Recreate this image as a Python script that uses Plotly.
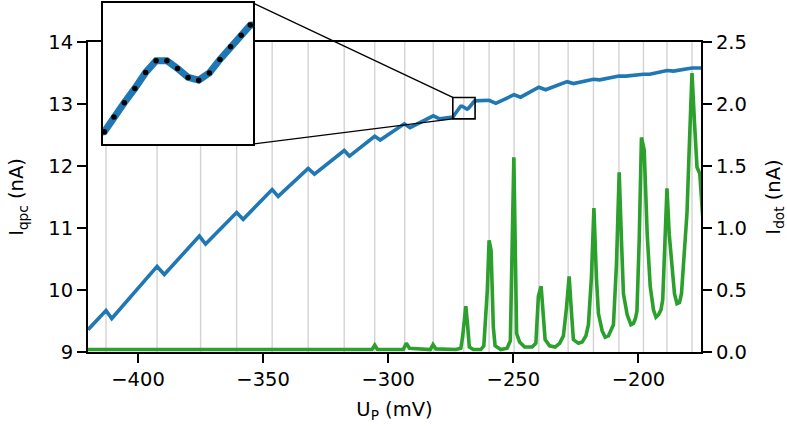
import plotly.graph_objects as go

# ---------------- data ----------------
grid_x = [-412.8, -392.4, -375.0, -360.6, -346.4, -332.0, -317.6, -305.4, -293.4,
          -282.0, -269.8, -259.7, -249.7, -239.8, -228.1, -218.0, -207.8, -198.0,
          -188.6, -178.6]

qpc_key_x = [-420.0, -412.8, -410.5, -392.4, -389.5, -375.5, -373.0, -360.6, -358.0,
             -346.4, -344.0, -332.0, -329.5, -317.6, -315.5, -305.4, -303.2, -293.6,
             -291.3, -282.0, -279.5,
             -259.7, -257.0, -249.7, -247.1, -239.8, -237.1, -228.5, -226.0, -218.0,
             -215.5, -207.8, -205.0, -198.0, -195.5, -188.6, -186.0, -178.6, -175.0]
qpc_key_y = [9.36, 9.67, 9.54, 10.38, 10.25, 10.87, 10.74, 11.25, 11.14,
             11.62, 11.51, 11.96, 11.87, 12.25, 12.16, 12.48, 12.42, 12.68,
             12.62, 12.81, 12.76,
             13.06, 13.01, 13.15, 13.11, 13.27, 13.23, 13.36, 13.33, 13.40,
             13.39, 13.45, 13.45, 13.48, 13.48, 13.54, 13.53, 13.58, 13.58]

inset_x = [-274.12, -273.55, -272.94, -272.31, -271.67, -271.05, -270.41, -269.78,
           -269.15, -268.52, -267.89, -267.26, -266.63, -266.00, -265.46]
inset_y = [12.790, 12.826, 12.861, 12.896, 12.935, 12.964, 12.964, 12.945,
           12.923, 12.916, 12.934, 12.967, 12.998, 13.026, 13.051]

dot_x = [-420.0, -306.5, -305.4, -304.3, -294.0, -292.8, -291.5, -283.2, -282.1, -281.0,
         -273.0, -271.0, -270.3, -269.0, -268.3, -267.6, -266.0,
         -263.0, -261.8, -260.4, -259.7, -258.9, -258.0, -257.3, -255.0,
         -252.5, -251.2, -249.8, -248.7, -247.5, -245.5, -242.5,
         -241.0, -240.0, -238.9, -238.3, -237.3, -235.5, -233.3, -231.5,
         -230.0, -228.8, -227.7, -226.7, -226.0, -224.0, -222.5, -221.0,
         -220.0, -218.8, -217.8, -216.8, -216.0, -214.5, -213.3, -212.0, -211.0,
         -210.0, -208.8, -207.7, -206.7, -206.0, -204.5, -203.0, -202.0, -201.2,
         -200.6, -199.7, -198.8, -197.7, -196.5, -195.3, -194.0, -193.0, -192.0, -191.0,
         -190.3, -189.4, -188.6, -187.7, -186.6, -185.6, -184.6, -183.6,
         -182.8, -181.7, -180.6, -179.6, -178.6, -177.6, -176.6, -175.5, -174.0]
dot_y = [0.02, 0.02, 0.055, 0.02, 0.02, 0.07, 0.03, 0.02, 0.06, 0.025,
         0.02, 0.03, 0.12, 0.37, 0.22, 0.04, 0.02,
         0.02, 0.05, 0.50, 0.90, 0.82, 0.20, 0.05, 0.02,
         0.03, 0.09, 1.57, 0.15, 0.08, 0.04, 0.04,
         0.07, 0.45, 0.53, 0.35, 0.10, 0.05, 0.04, 0.07,
         0.13, 0.35, 0.61, 0.30, 0.10, 0.07, 0.08, 0.13,
         0.22, 0.60, 1.16, 0.60, 0.31, 0.17, 0.12, 0.13, 0.17,
         0.22, 0.70, 1.45, 0.85, 0.47, 0.30, 0.22, 0.23, 0.27,
         0.33, 0.90, 1.73, 1.63, 0.95, 0.53, 0.34, 0.28, 0.30, 0.34,
         0.42, 0.85, 1.32, 0.95, 0.69, 0.47, 0.39, 0.40,
         0.47, 0.80, 1.12, 1.70, 2.25, 1.85, 1.49, 1.44, 1.00]

x_range = [-420, -175]
qpc_range = [9, 14]
dot_range = [0, 2.5]
inset_xr = [-274.2, -265.3]
inset_yr = [12.76, 13.105]

x_ticks = [-400, -350, -300, -250, -200]
qpc_ticks = [9, 10, 11, 12, 13, 14]
dot_ticks = [0.0, 0.5, 1.0, 1.5, 2.0, 2.5]

# merge main keypoints with the inset samples
pairs = sorted(list(zip(qpc_key_x, qpc_key_y)) + list(zip(inset_x, inset_y)))
qpc_x = [p[0] for p in pairs]
qpc_y = [p[1] for p in pairs]

# ---------------- layout geometry ----------------
W, H = 787, 426
ML, MR, MT, MB = 88, 86, 3, 74
plot_h = H - MT - MB
main_ydom = [0, (H - MB - 42) / plot_h]
inset_xdom = [(103 - ML) / (W - ML - MR), (253 - ML) / (W - ML - MR)]
inset_ydom = [(H - MB - 144) / plot_h, 1.0]

BLUE = "#1f77b4"
GREEN = "#2ca02c"
FONT = "DejaVu Sans"
FS = 19.5

fig = go.Figure()
fig.add_trace(go.Scatter(x=qpc_x, y=qpc_y, mode="lines", line=dict(color=BLUE, width=3.6),
                         xaxis="x", yaxis="y", showlegend=False))
fig.add_trace(go.Scatter(x=dot_x, y=dot_y, mode="lines", line=dict(color=GREEN, width=3.6),
                         xaxis="x", yaxis="y2", showlegend=False))
# inset
fig.add_trace(go.Scatter(x=qpc_x, y=qpc_y, mode="lines", line=dict(color=BLUE, width=7),
                         xaxis="x2", yaxis="y3", showlegend=False))
fig.add_trace(go.Scatter(x=inset_x, y=inset_y, mode="markers",
                         marker=dict(color="black", size=5.5),
                         xaxis="x2", yaxis="y3", showlegend=False))

shapes = []
for gx in grid_x:
    shapes.append(dict(type="line", xref="x", yref="y domain", x0=gx, x1=gx, y0=0, y1=1,
                       line=dict(color="#d3d3d3", width=1.4), layer="below"))
shapes.append(dict(type="rect", xref="x", yref="y", x0=inset_xr[0], x1=inset_xr[1],
                   y0=inset_yr[0], y1=inset_yr[1], line=dict(color="black", width=1.6),
                   layer="above"))


def to_paper(xv, yv):
    px = (xv - x_range[0]) / (x_range[1] - x_range[0])
    py = main_ydom[0] + (yv - qpc_range[0]) / (qpc_range[1] - qpc_range[0]) * (main_ydom[1] - main_ydom[0])
    return px, py


bx0, by1 = to_paper(inset_xr[0], inset_yr[1])
bx0b, by0 = to_paper(inset_xr[0], inset_yr[0])
shapes.append(dict(type="line", xref="paper", yref="paper", x0=inset_xdom[1], y0=inset_ydom[1],
                   x1=bx0, y1=by1, line=dict(color="black", width=1.4), layer="above"))
shapes.append(dict(type="line", xref="paper", yref="paper", x0=inset_xdom[1], y0=inset_ydom[0],
                   x1=bx0b, y1=by0, line=dict(color="black", width=1.4), layer="above"))

axis_common = dict(showline=True, linecolor="black", linewidth=2, ticks="outside",
                   ticklen=9, tickwidth=2, tickcolor="black", showgrid=False, zeroline=False,
                   automargin=False,
                   tickfont=dict(family=FONT, size=FS, color="black"))
inset_common = dict(showticklabels=False, ticks="", showgrid=False, zeroline=False,
                    showline=True, mirror=True, linecolor="black", linewidth=2,
                    automargin=False)

fig.update_layout(
    width=W, height=H, margin=dict(l=ML, r=MR, t=MT, b=MB, pad=0, autoexpand=False),
    paper_bgcolor="white", plot_bgcolor="white",
    font=dict(family=FONT, size=FS, color="black"),
    shapes=shapes,
    xaxis=dict(domain=[0, 1], range=x_range, tickvals=x_ticks, mirror=True,
               title=dict(text="U<sub>P</sub> (mV)", font=dict(family=FONT, size=FS), standoff=12),
               anchor="y", **axis_common),
    yaxis=dict(domain=main_ydom, range=qpc_range, tickvals=qpc_ticks, anchor="x",
               title=dict(text="I<sub>qpc</sub> (nA)", font=dict(family=FONT, size=FS), standoff=19),
               **axis_common),
    yaxis2=dict(range=dot_range, tickvals=dot_ticks, tickformat=".1f", overlaying="y",
                side="right", anchor="x",
                title=dict(text="I<sub>dot</sub> (nA)", font=dict(family=FONT, size=FS), standoff=22),
                **axis_common),
    xaxis2=dict(domain=inset_xdom, range=inset_xr, anchor="y3", **inset_common),
    yaxis3=dict(domain=inset_ydom, range=inset_yr, anchor="x2", **inset_common),
)

fig.write_html("out.html")
